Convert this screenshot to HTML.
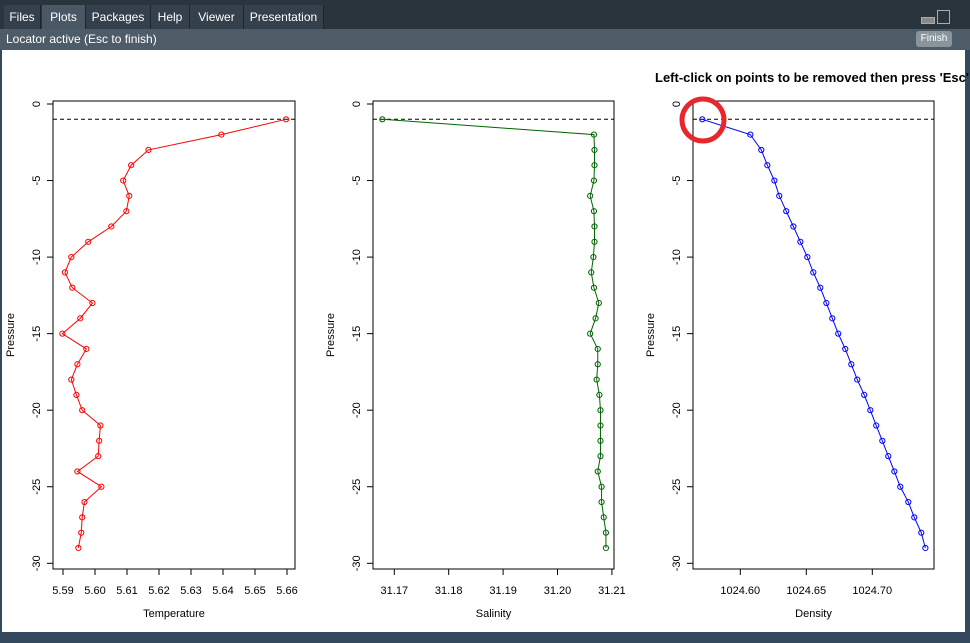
<!DOCTYPE html>
<html><head><meta charset="utf-8">
<style>
body{margin:0;width:970px;height:643px;overflow:hidden;background:#34495e;font-family:"Liberation Sans",sans-serif;}
#top{position:absolute;left:0;top:0;width:970px;height:30px;background:#2a343d;}
.tab{position:absolute;top:5px;height:24px;line-height:24px;color:#fff;font-size:12px;text-align:center;background:#34404b;border-right:1px solid #1e262d;}
.tab.sel{background:#4a5865;}
#loc{position:absolute;left:0;top:29px;width:970px;height:21px;background:#4e5c68;color:#fff;font-size:12px;line-height:21px;}
#finish{position:absolute;left:916px;top:2px;width:36px;height:16px;background:#8a949c;border-radius:3px;font-size:10px;line-height:16px;text-align:center;color:#fff;}
#plot{position:absolute;left:2px;top:50px;width:963px;height:582px;background:#fff;}
</style></head><body>
<div id="top">
<div class="tab" style="left:4px;width:36px">Files</div>
<div class="tab sel" style="left:42px;width:43px">Plots</div>
<div class="tab" style="left:86px;width:64px">Packages</div>
<div class="tab" style="left:151px;width:38px">Help</div>
<div class="tab" style="left:190px;width:53px">Viewer</div>
<div class="tab" style="left:244px;width:79px">Presentation</div>
<div style="position:absolute;left:921px;top:17px;width:12px;height:5px;border:1px solid #aaa;background:#888"></div>
<div style="position:absolute;left:937px;top:10px;width:11px;height:12px;border:1px solid #aaa"></div>
</div>
<div id="loc"><span style="margin-left:6px">Locator active (Esc to finish)</span>
<div id="finish">Finish</div></div>
<div id="plot"></div>
<svg id="svg" width="970" height="643" style="position:absolute;left:0;top:0"></svg>
<script>
const pressure=[-1,-2,-3,-4,-5,-6,-7,-8,-9,-10,-11,-12,-13,-14,-15,-16,-17,-18,-19,-20,-21,-22,-23,-24,-25,-26,-27,-28,-29];
const temperature=[5.6597,5.6395,5.6167,5.6113,5.6088,5.6107,5.6098,5.6051,5.5979,5.5926,5.5906,5.5929,5.5992,5.5954,5.5898,5.5973,5.5945,5.5926,5.5942,5.5960,5.6017,5.6013,5.6010,5.5945,5.6020,5.5967,5.5960,5.5957,5.5948];
const salinity=[31.1678,31.2067,31.2068,31.2068,31.2067,31.2060,31.2067,31.2068,31.2068,31.2066,31.2062,31.2067,31.2076,31.2070,31.2060,31.2074,31.2074,31.2072,31.2077,31.2079,31.2079,31.2079,31.2079,31.2074,31.2081,31.2081,31.2085,31.2089,31.2089];
const density=[1024.5712,1024.6076,1024.6159,1024.6205,1024.6258,1024.6295,1024.6348,1024.6402,1024.6455,1024.6508,1024.6553,1024.6606,1024.6652,1024.6697,1024.6742,1024.6795,1024.6841,1024.6886,1024.6939,1024.6985,1024.7030,1024.7076,1024.7121,1024.7167,1024.7212,1024.7273,1024.7318,1024.7371,1024.7402];
const yTicks=[0,-5,-10,-15,-20,-25,-30];
const tempTicks=[5.59,5.60,5.61,5.62,5.63,5.64,5.65,5.66];
const salTicks=[31.17,31.18,31.19,31.20,31.21];
const denTicks=[1024.60,1024.65,1024.70];
const cutoff=-1;
const NS='http://www.w3.org/2000/svg';
const svg=document.getElementById('svg');
function mk(t,a,p){const e=document.createElementNS(NS,t);for(const k in a)e.setAttribute(k,a[k]);(p||svg).appendChild(e);return e;}
const yTop=104,yPer=15.31;
function ys(p){return yTop+(-p)*yPer;}
function panel(name,bx0,bx1,x0px,x0val,pxPer,vals,ticks,dec,color,xlabel){
  const g=mk('g',{});
  
  
  const xs=v=>x0px+(v-x0val)*pxPer;
  const fr=mk('rect',{x:bx0,y:101,width:bx1-bx0,height:468,fill:'none',stroke:'#000','stroke-width':1},g);
  
  
  yTicks.forEach(t=>{const y=ys(t);
    mk('line',{x1:bx0-6,x2:bx0,y1:y,y2:y,stroke:'#000'},g);
    const tx=mk('text',{x:0,y:0,transform:`translate(${bx0-13},${y}) rotate(-90)`,'text-anchor':'middle','font-size':11},g);
    
    
    tx.textContent=t;});
  ticks.forEach(t=>{const x=xs(t);
    mk('line',{x1:x,x2:x,y1:569,y2:575,stroke:'#000'},g);
    const tx=mk('text',{x:x,y:594,'text-anchor':'middle','font-size':11},g);
    
    
    tx.textContent=t.toFixed(dec);});
  const yl=mk('text',{x:0,y:0,transform:`translate(${bx0-39},335) rotate(-90)`,'text-anchor':'middle','font-size':11},g);
  
  
  yl.textContent='Pressure';
  const xl=mk('text',{x:(bx0+bx1)/2,y:617,'text-anchor':'middle','font-size':11},g);
  
  
  xl.textContent=xlabel;
  const dl=mk('line',{x1:bx0,x2:bx1,y1:ys(cutoff),y2:ys(cutoff),stroke:'#000','stroke-dasharray':'4,3'},g);
  
  
  const pts=vals.map((v,i)=>xs(v)+','+ys(pressure[i])).join(' ');
  const pl=mk('polyline',{points:pts,fill:'none',stroke:color,'stroke-width':1},g);
  
  
  vals.forEach((v,i)=>{const c=mk('circle',{cx:xs(v),cy:ys(pressure[i]),r:2.6,fill:'none',stroke:color,'stroke-width':1},g);
    
    });
}
panel('temperature',53,295,63,5.59,3200,temperature,tempTicks,2,'#ff0000','Temperature');
panel('salinity',373,614,394.3,31.17,5440,salinity,salTicks,2,'#006400','Salinity');
panel('density',693,934,740.3,1024.60,1320,density,denTicks,2,'#0000ff','Density');
const rc=mk('circle',{cx:703,cy:120,r:21,fill:'none',stroke:'#e8262b','stroke-width':5});


const tt=mk('text',{x:655,y:82,'font-size':13,'font-weight':'bold'});


tt.textContent="Left-click on points to be removed then press 'Esc'";
</script>
</body></html>
